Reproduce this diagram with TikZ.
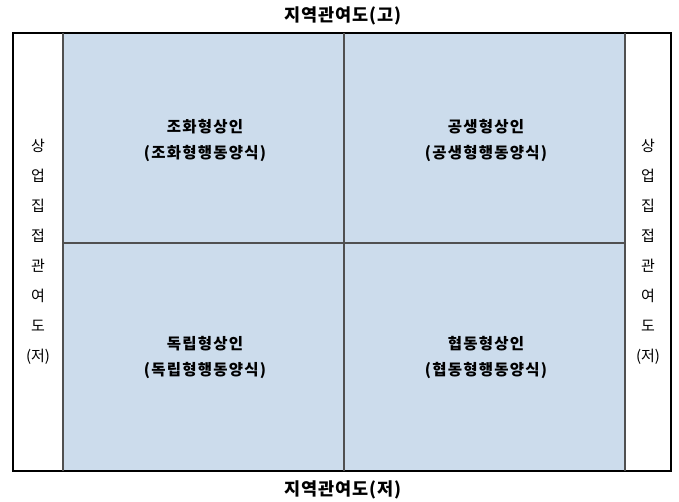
\documentclass[tikz,border=0pt]{standalone}
\usepackage{fontspec}
\setmainfont{Noto Sans CJK KR}
\newfontfamily\spacedfont[LetterSpace=8]{Noto Sans CJK KR}
\newfontfamily\titlefont[LetterSpace=6]{Noto Sans CJK KR}
\definecolor{cellfill}{HTML}{CCDCEC}
\definecolor{gridline}{HTML}{505050}
\tikzset{
  title/.style={font=\titlefont\fontsize{17.5}{20}\selectfont\bfseries, inner sep=0pt},
  quad/.style={font=\spacedfont\fontsize{15.5}{26}\selectfont\bfseries, align=center, inner sep=0pt},
  side/.style={font=\fontsize{15}{30}\selectfont, align=center, inner sep=0pt},
}
\begin{document}
\begin{tikzpicture}[x=1pt,y=-1pt]
\useasboundingbox (0,0) rectangle (679,501);
\fill[white] (0,0) rectangle (679,501);
% shaded inner region
\fill[cellfill] (63,33) rectangle (625,471);
\draw[black, line width=1.1pt] (13,33) rectangle (671,471);
\draw[gridline, line width=1.1pt] (63,33) -- (63,471);
\draw[gridline, line width=1.1pt] (625,33) -- (625,471);
\draw[gridline, line width=1.1pt] (344,33) -- (344,471);
\draw[gridline, line width=1.1pt] (63,243) -- (625,243);
% titles
\node[title] (top) at (343,16) {지역관여도(고)};
\node[title] (bottom) at (343,490) {지역관여도(저)};
% side labels
\node[side] (left) at (38,252) {상\\업\\집\\접\\관\\여\\도\\(저)};
\node[side] (right) at (648,252) {상\\업\\집\\접\\관\\여\\도\\(저)};
% quadrants
\node[quad] (q1) at (205,140) {조화형상인\\(조화형행동양식)};
\node[quad] (q2) at (486,140) {공생형상인\\(공생형행동양식)};
\node[quad] (q3) at (205,357) {독립형상인\\(독립형행동양식)};
\node[quad] (q4) at (486,357) {협동형상인\\(협동형행동양식)};
\end{tikzpicture}
\end{document}
